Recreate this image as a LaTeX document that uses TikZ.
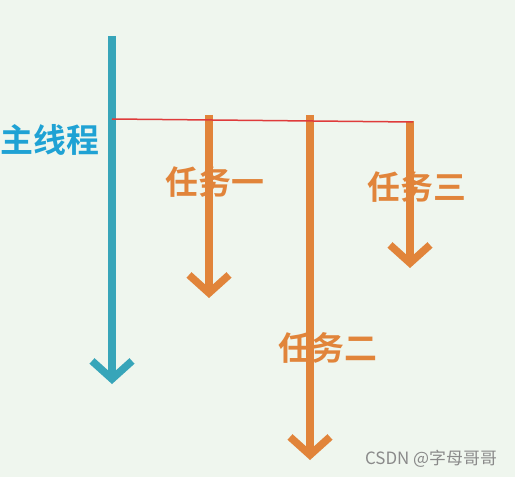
\documentclass[tikz,border=0pt]{standalone}
\usepackage{fontspec}
\usetikzlibrary{arrows.meta}
\newfontfamily\cjk{Noto Sans CJK SC}
\newfontfamily\cjkbold{Noto Sans CJK SC Bold}
\definecolor{bgcol}{HTML}{EFF6EE}
\definecolor{mainteal}{HTML}{37A5B9}
\definecolor{mainblue}{HTML}{1FA2D4}
\definecolor{taskorange}{HTML}{E1843A}
\definecolor{syncred}{HTML}{DF3B3B}
\definecolor{markgray}{HTML}{8A8A8A}

\begin{document}
\begin{tikzpicture}[x=1bp,y=-1bp]

    \fill[bgcol] (0,0) rectangle (515,477);

        \begin{scope}[every node/.style={inner sep=0pt}]
            \coordinate (m0) at (112,36);
            \coordinate (m1) at (112,384);
            \coordinate (s0) at (112,119);
            \coordinate (s1) at (413,122);
            \coordinate (a0) at (209,115);
            \coordinate (a1) at (209,298);
            \coordinate (b0) at (310,115);
            \coordinate (b1) at (310,460);
            \coordinate (c0) at (410,121);
            \coordinate (c1) at (410,268);
        \end{scope}

        \begin{scope}[line width=7.5bp,line join=miter,line cap=butt]
            \draw [mainteal,-{Straight Barb[length=18bp,width=40bp]}] (m0) -- (m1);
            \draw [taskorange,-{Straight Barb[length=18bp,width=40bp]}] (a0) -- (a1);
            \draw [taskorange,-{Straight Barb[length=18bp,width=40bp]}] (b0) -- (b1);
            \draw [taskorange,-{Straight Barb[length=18bp,width=40bp]}] (c0) -- (c1);
        \end{scope}
        \draw [syncred,line width=1.5bp] (s0) -- (s1);

        \begin{scope}[every node/.style={inner sep=0pt,font=\cjkbold\fontsize{33}{33}\selectfont}]
            \node [text=mainblue] (mainlbl) at (50,140) {主线程};
            \node [text=taskorange] (lbla) at (215,182) {任务一};
            \node [text=taskorange] (lblb) at (328,348) {任务二};
            \node [text=taskorange] (lblc) at (417,187) {任务三};
        \end{scope}
        \node [text=markgray,inner sep=0pt,font=\cjk\fontsize{17}{17}\selectfont] (mark) at (431,459) {CSDN @字母哥哥};

\end{tikzpicture}
\end{document}
